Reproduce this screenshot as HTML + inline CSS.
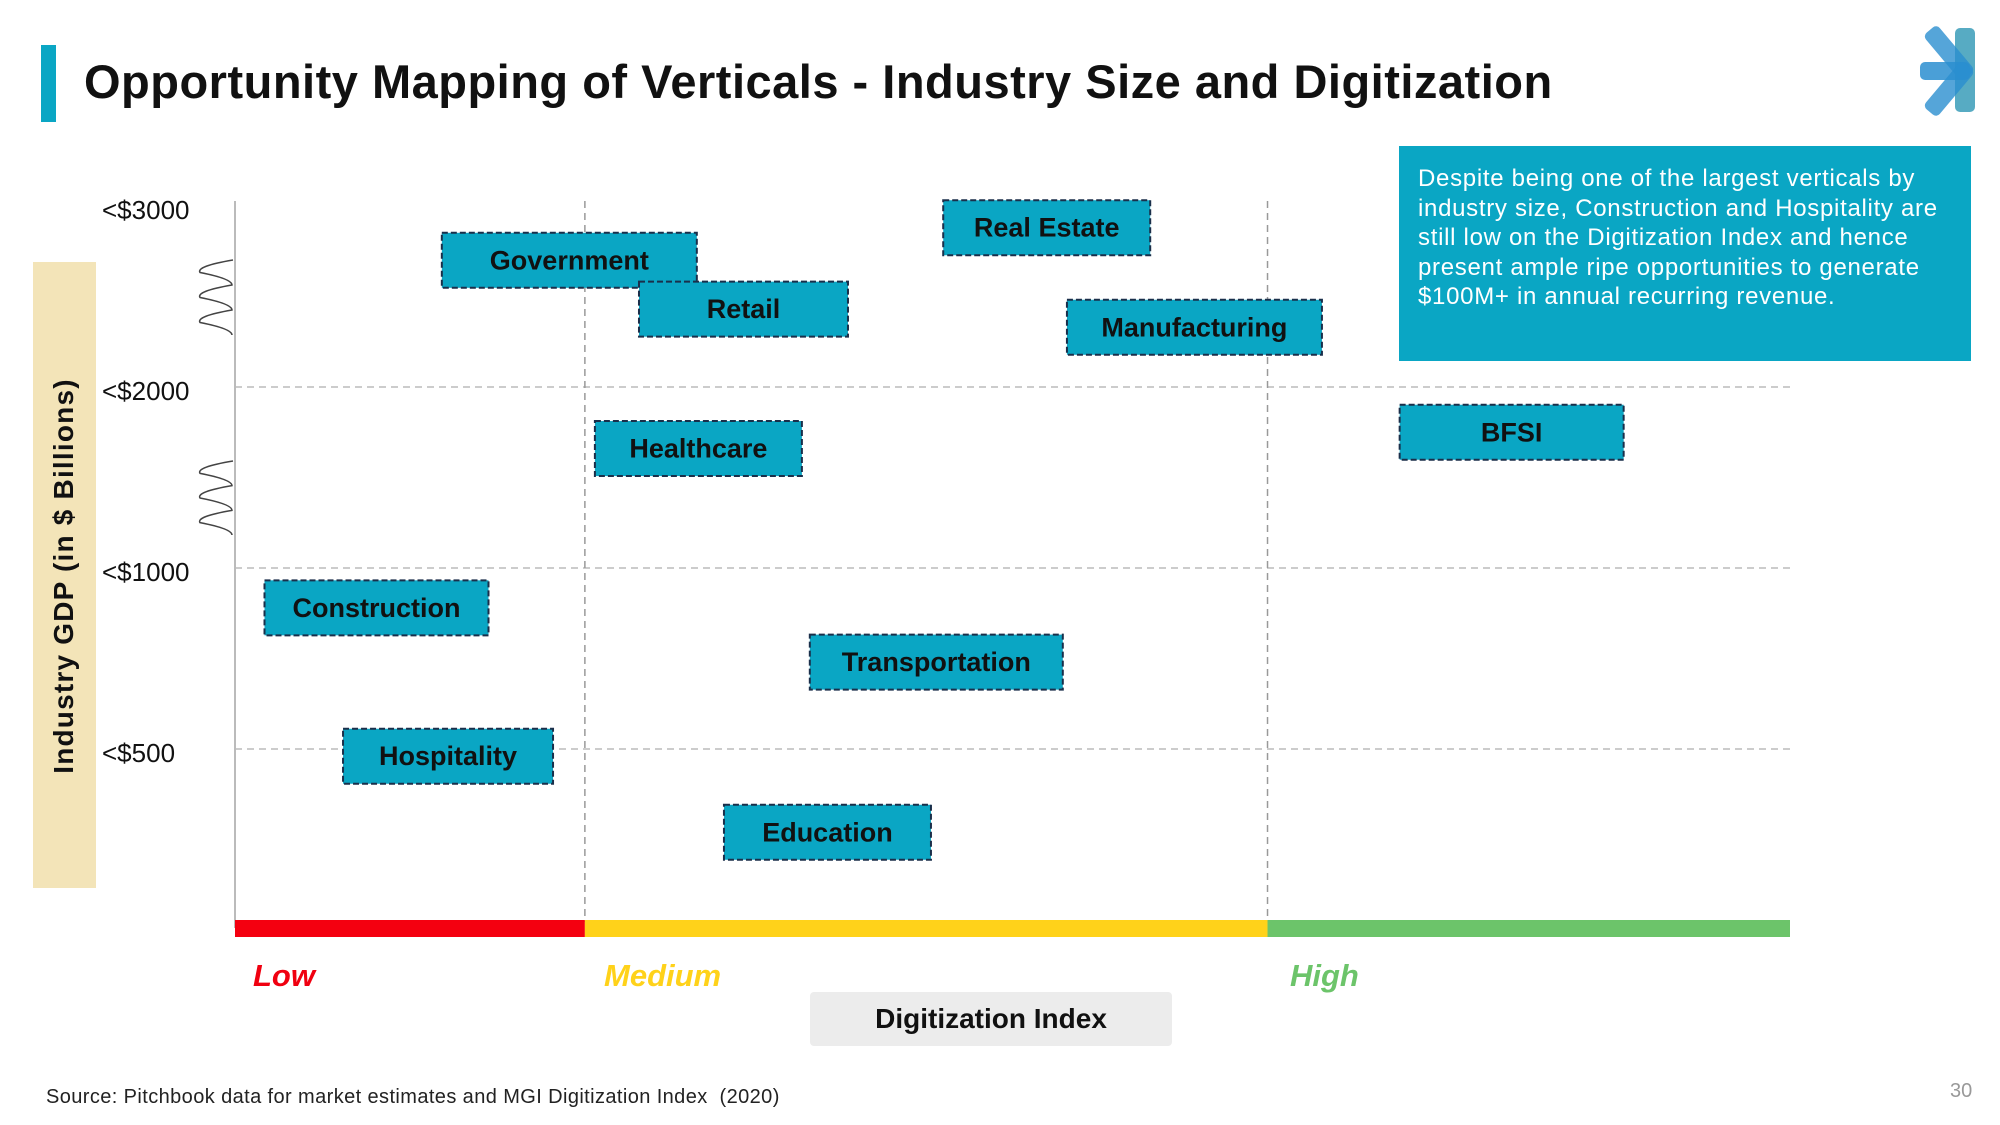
<!DOCTYPE html>
<html><head><meta charset="utf-8"><style>
html,body{margin:0;padding:0;background:#fff;}
body{width:2000px;height:1125px;position:relative;overflow:hidden;font-family:"Liberation Sans",sans-serif;}
.abs{position:absolute;}
</style></head><body>
<div class="abs" style="left:41px;top:45px;width:15px;height:77px;background:#0aa6c4"></div>
<div class="abs" style="left:84px;top:54px;font-size:47px;font-weight:bold;color:#111;letter-spacing:0.5px">Opportunity Mapping of Verticals - Industry Size and Digitization</div>
<svg class="abs" style="left:1918px;top:25px" width="64" height="92" viewBox="0 0 64 92">
<rect x="37" y="3" width="20" height="84" rx="5" fill="#3a9cb8" opacity="0.85"/>
<rect x="2" y="37" width="50" height="18" rx="5" fill="#2a8ed0" opacity="0.85"/>
<rect x="22" y="-2" width="18" height="60" rx="5" fill="#2a8ed0" opacity="0.8" transform="rotate(-40 31 28)"/>
<rect x="22" y="34" width="18" height="60" rx="5" fill="#2a8ed0" opacity="0.8" transform="rotate(40 31 64)"/>
</svg>
<div class="abs" style="left:1399px;top:146px;width:572px;height:215px;background:#0aa6c4;color:#fff;font-size:24px;letter-spacing:0.7px;line-height:29.5px;padding:18px 6px 0 19px;box-sizing:border-box">Despite being one of the largest verticals by industry size, Construction and Hospitality are still low on the Digitization Index and hence present ample ripe opportunities to generate $100M+ in annual recurring revenue.</div>
<div class="abs" style="left:33px;top:262px;width:63px;height:626px;background:#f3e4b8"></div>
<div class="abs" style="left:64px;top:576px;transform:translate(-50%,-50%) rotate(-90deg);white-space:nowrap;font-size:28px;font-weight:bold;color:#111;letter-spacing:1.2px">Industry GDP (in $ Billions)</div>
<svg class="abs" id="chart" style="left:0;top:0" width="2000" height="1125"></svg>
<div class="abs" style="left:253px;top:958px;font-size:31px;font-weight:bold;font-style:italic;color:#f00010">Low</div>
<div class="abs" style="left:604px;top:958px;font-size:31px;font-weight:bold;font-style:italic;color:#ffd21a">Medium</div>
<div class="abs" style="left:1290px;top:958px;font-size:31px;font-weight:bold;font-style:italic;color:#6cc46a">High</div>
<div class="abs" style="left:810px;top:992px;width:362px;height:54px;background:#ececec;border-radius:4px;font-size:28px;font-weight:bold;color:#111;text-align:center;line-height:54px">Digitization Index</div>
<div class="abs" style="left:46px;top:1086px;font-size:20px;letter-spacing:0.4px;color:#222">Source: Pitchbook data for market estimates and MGI Digitization Index&nbsp; (2020)</div>
<div class="abs" style="left:1950px;top:1080px;font-size:20px;color:#999">30</div>
<script>
const categories=["Government","Retail","Real Estate","Manufacturing","BFSI","Healthcare","Construction","Transportation","Hospitality","Education"];
const digitization=[21.5,32.7,52.2,61.7,82.1,29.8,9.1,45.1,13.7,38.1];
const gdpLevel=[3.70,3.43,3.88,3.33,2.75,2.66,1.78,1.48,0.96,0.54];
const yTickValues=[1,2,3,4];
const yTickLabels=["<$500","<$1000","<$2000","<$3000"];
const NS="http://www.w3.org/2000/svg";
const svg=document.getElementById('chart');
const X0=235,X1=1790,Y0=930;
function xs(v){return X0+v*(X1-X0)/100;}
function ys(v){return Y0-v*181;}
function mk(t,a,p){const e=document.createElementNS(NS,t);for(const k in a)e.setAttribute(k,a[k]);(p||svg).appendChild(e);return e;}
yTickValues.forEach((v,i)=>{
  const y=ys(v);
  if(v<4){const g=mk('line',{x1:X0,x2:X1,y1:y,y2:y,stroke:'#bbb','stroke-width':1.5,'stroke-dasharray':'7 5'});
  
  }
  const t=mk('text',{x:102,y:y+13,'font-size':26,fill:'#111','font-family':'Liberation Sans, sans-serif'});
  t.textContent=yTickLabels[i];
  
  
});
[22.5,66.4].forEach(v=>{
  const l=mk('line',{x1:xs(v),x2:xs(v),y1:201,y2:922,stroke:'#999','stroke-width':1.5,'stroke-dasharray':'7 5'});
  
  });
const ax=mk('line',{x1:X0,x2:X0,y1:201,y2:928,stroke:'#bbb','stroke-width':2});


[[260,335],[461,535]].forEach(r=>{
  let d='M233 '+r[0];const n=3,h=(r[1]-r[0])/(n*2);
  for(let i=0;i<n*2;i++){d+=' Q'+(i%2?232:196)+' '+(r[0]+h*i+h/2)+' '+(i%2?232:200)+' '+(r[0]+h*(i+1));}
  const p=mk('path',{d:d,fill:'none',stroke:'#444','stroke-width':1.5});
  
  
});
[[0,22.5,'#f40010','low-band'],[22.5,66.4,'#ffd21a','medium-band'],[66.4,100,'#6cc46a','high-band']].forEach(b=>{
  const r=mk('rect',{x:xs(b[0]),y:920,width:xs(b[1])-xs(b[0]),height:17,fill:b[2]});
  
  
});
const widths=[255,209,207,255,224,207,224,253,210,207];
categories.forEach((c,i)=>{
  const cx=xs(digitization[i]),cy=ys(gdpLevel[i]),w=widths[i],h=55;
  const g=mk('g',{});
  
  
  mk('rect',{x:cx-w/2,y:cy-h/2,width:w,height:h,fill:'#0aa6c4',stroke:'#1a2f4a','stroke-width':2,'stroke-dasharray':'6 3'},g);
  const t=mk('text',{x:cx,y:cy+9,'text-anchor':'middle','font-size':27,'font-weight':'bold',fill:'#111','font-family':'Liberation Sans, sans-serif'},g);
  t.textContent=c;
});
</script>
</body></html>
